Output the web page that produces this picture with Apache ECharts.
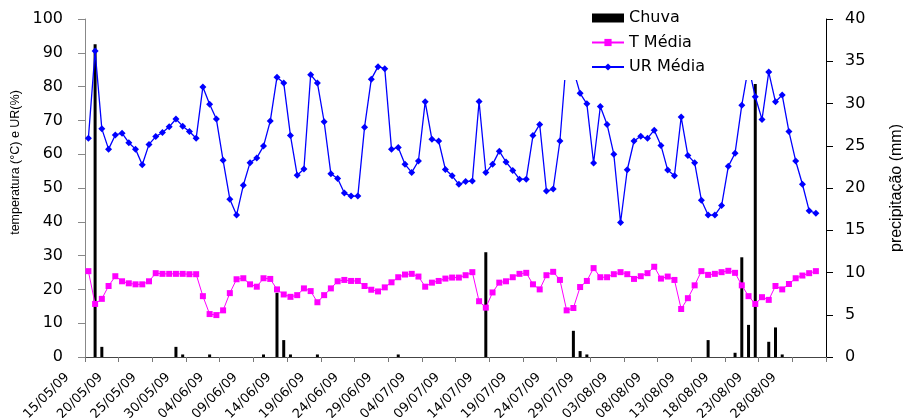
<!DOCTYPE html>
<html><head><meta charset="utf-8">
<script src="https://cdn.jsdelivr.net/npm/echarts@6/dist/echarts.min.js"></script>
<style>html,body{margin:0;padding:0;background:#fff}#c{width:903px;height:418px}</style>
</head><body><div id="c"></div>
<script>
const dates = [
"15/05/09","16/05/09","17/05/09","18/05/09","19/05/09","20/05/09","21/05/09","22/05/09","23/05/09","24/05/09",
"25/05/09","26/05/09","27/05/09","28/05/09","29/05/09","30/05/09","31/05/09",
"01/06/09","02/06/09","03/06/09","04/06/09","05/06/09","06/06/09","07/06/09","08/06/09","09/06/09","10/06/09",
"11/06/09","12/06/09","13/06/09","14/06/09","15/06/09","16/06/09","17/06/09","18/06/09","19/06/09","20/06/09",
"21/06/09","22/06/09","23/06/09","24/06/09","25/06/09","26/06/09","27/06/09","28/06/09","29/06/09","30/06/09",
"01/07/09","02/07/09","03/07/09","04/07/09","05/07/09","06/07/09","07/07/09","08/07/09","09/07/09","10/07/09",
"11/07/09","12/07/09","13/07/09","14/07/09","15/07/09","16/07/09","17/07/09","18/07/09","19/07/09","20/07/09",
"21/07/09","22/07/09","23/07/09","24/07/09","25/07/09","26/07/09","27/07/09","28/07/09","29/07/09","30/07/09","31/07/09",
"01/08/09","02/08/09","03/08/09","04/08/09","05/08/09","06/08/09","07/08/09","08/08/09","09/08/09","10/08/09",
"11/08/09","12/08/09","13/08/09","14/08/09","15/08/09","16/08/09","17/08/09","18/08/09","19/08/09","20/08/09",
"21/08/09","22/08/09","23/08/09","24/08/09","25/08/09","26/08/09","27/08/09","28/08/09","29/08/09","30/08/09","31/08/09",
"01/09/09"
];
const chuva = [
0, 37.0, 1.2, 0, 0, 0, 0, 0, 0, 0,
0, 0, 0, 1.2, 0.3, 0, 0, 0, 0.3, 0,
0, 0, 0, 0, 0, 0, 0.3, 0, 7.6, 2.0,
0.3, 0, 0, 0, 0.3, 0, 0, 0, 0, 0,
0, 0, 0, 0, 0, 0, 0.3, 0, 0, 0,
0, 0, 0, 0, 0, 0, 0, 0, 0, 12.4,
0, 0, 0, 0, 0, 0, 0, 0, 0, 0,
0, 0, 3.1, 0.7, 0.3, 0, 0, 0, 0, 0,
0, 0, 0, 0, 0, 0, 0, 0, 0, 0,
0, 0, 2.0, 0, 0, 0, 0.5, 11.8, 3.8, 32.3,
0, 1.8, 3.5, 0.3, 0, 0, 0, 0, 0, null
];
const tMedia = [
25.4, 15.7, 17.2, 21.0, 23.9, 22.4, 21.8, 21.5, 21.5, 22.4,
24.8, 24.6, 24.6, 24.6, 24.6, 24.5, 24.5, 18.0, 12.7, 12.4,
13.8, 18.9, 23.0, 23.3, 21.5, 20.8, 23.3, 23.1, 20.0, 18.5,
17.8, 18.3, 20.3, 19.5, 16.2, 18.3, 20.3, 22.4, 22.8, 22.5,
22.5, 21.0, 19.9, 19.4, 20.6, 22.1, 23.6, 24.4, 24.6, 23.8,
20.8, 22.0, 22.5, 23.2, 23.5, 23.5, 24.2, 25.1, 16.5, 14.6,
19.1, 22.0, 22.4, 23.6, 24.6, 24.9, 21.5, 20.0, 24.2, 25.2,
22.8, 13.8, 14.5, 20.7, 22.5, 26.3, 23.6, 23.6, 24.5, 25.1,
24.5, 23.1, 23.9, 24.8, 26.7, 23.2, 23.8, 22.8, 14.2, 17.4,
21.2, 25.4, 24.3, 24.6, 25.1, 25.5, 24.9, 21.2, 18.0, 15.7,
17.7, 16.9, 21.0, 20.0, 21.6, 23.3, 24.1, 24.8, 25.4, null
];
const urMedia = [
64.7, 90.5, 67.5, 61.5, 65.7, 66.2, 63.4, 61.5, 56.9, 62.9,
65.2, 66.4, 68.1, 70.4, 68.3, 66.7, 64.7, 79.9, 74.8, 70.4,
58.2, 46.7, 42.0, 50.8, 57.5, 58.9, 62.4, 69.8, 82.8, 81.1,
65.5, 53.8, 55.6, 83.5, 81.1, 69.6, 54.2, 52.8, 48.5, 47.6,
47.6, 68.0, 82.2, 85.9, 85.3, 61.5, 62.0, 57.0, 54.6, 58.0,
75.5, 64.4, 63.9, 55.5, 53.6, 51.1, 51.9, 52.1, 75.6, 54.6,
57.0, 60.9, 57.7, 55.2, 52.6, 52.6, 65.5, 68.8, 49.1, 49.7,
63.9, 89.0, 85.0, 78.0, 74.9, 57.4, 74.1, 68.8, 60.0, 39.8,
55.4, 63.9, 65.3, 64.7, 67.1, 62.6, 55.3, 53.6, 71.0, 59.6,
57.5, 46.4, 42.0, 42.0, 44.8, 56.4, 60.3, 74.5, 86.0, 77.0,
70.3, 84.3, 75.5, 77.5, 66.7, 58.0, 51.1, 43.3, 42.5, null
];
const seriesNames = ["Chuva", "T Média", "UR Média"];
const leftAxisName = "temperatura (°C) e UR(%)";
const rightAxisName = "precipitação (mm)";

const chart = echarts.init(document.getElementById('c'), null, {renderer: 'canvas'});
const tickFont = {fontFamily: 'DejaVu Sans', fontSize: 16, color: '#000'};
chart.setOption({
  animation: false,
  backgroundColor: '#fff',
  grid: {left: 85, right: 77, top: 19, bottom: 61, containLabel: false, outerBoundsMode: 'none'},
  legend: {
    orient: 'vertical', left: 556, top: 0,
    padding: [10, 56, 5, 35],
    backgroundColor: '#fff',
    itemWidth: 32, itemHeight: 9, itemGap: 8.5,
    selectedMode: false,
    textStyle: {fontFamily: 'DejaVu Sans', fontSize: 16, color: '#000', lineHeight: 16},
    data: [
      {name: seriesNames[0], icon: 'rect'},
      {name: seriesNames[1]},
      {name: seriesNames[2]}
    ]
  },
  xAxis: {
    type: 'category', data: dates, boundaryGap: true,
    axisLine: {show: true, lineStyle: {color: '#444', width: 1}},
    axisTick: {show: true, interval: 4, length: 5, lineStyle: {color: '#777'}},
    axisLabel: {interval: 4, rotate: 45, margin: -3, padding: [0, 30, 0, 0],
      fontFamily: 'DejaVu Sans', fontSize: 13, color: '#000'},
    splitLine: {show: false}
  },
  yAxis: [
    {
      type: 'value', min: 0, max: 100, interval: 10, position: 'left',
      name: leftAxisName, nameLocation: 'middle', nameRotate: 90, nameGap: 51,
      nameTextStyle: {fontFamily: 'Liberation Sans', fontSize: 12.5, color: '#000', padding: [0, 0, 0, 51]},
      axisLine: {show: true, lineStyle: {color: '#888', width: 1}},
      axisTick: {show: true, length: 7, lineStyle: {color: '#888'}},
      axisLabel: Object.assign({margin: 22}, tickFont),
      splitLine: {show: false}
    },
    {
      type: 'value', min: 0, max: 40, interval: 5, position: 'right',
      name: rightAxisName, nameLocation: 'middle', nameRotate: 90, nameGap: 63,
      nameTextStyle: {fontFamily: 'Liberation Sans', fontSize: 16, color: '#000'},
      axisLine: {show: true, lineStyle: {color: '#000', width: 1}},
      axisTick: {show: true, length: 7, lineStyle: {color: '#000'}},
      axisLabel: Object.assign({margin: 19}, tickFont),
      splitLine: {show: false}
    }
  ],
  series: [
    {
      name: seriesNames[0], type: 'bar', yAxisIndex: 1, data: chuva,
      barWidth: 3, itemStyle: {color: '#000'}
    },
    {
      name: seriesNames[1], type: 'line', yAxisIndex: 0, data: tMedia,
      symbol: 'rect', symbolSize: 6, showAllSymbol: true,
      lineStyle: {color: '#ff00ff', width: 1},
      itemStyle: {color: '#ff00ff'}
    },
    {
      name: seriesNames[2], type: 'line', yAxisIndex: 0, data: urMedia,
      symbol: 'diamond', symbolSize: 7, showAllSymbol: true,
      lineStyle: {color: '#0000ff', width: 1.3},
      itemStyle: {color: '#0000ff'}
    }
  ]
});
</script>
</body></html>
